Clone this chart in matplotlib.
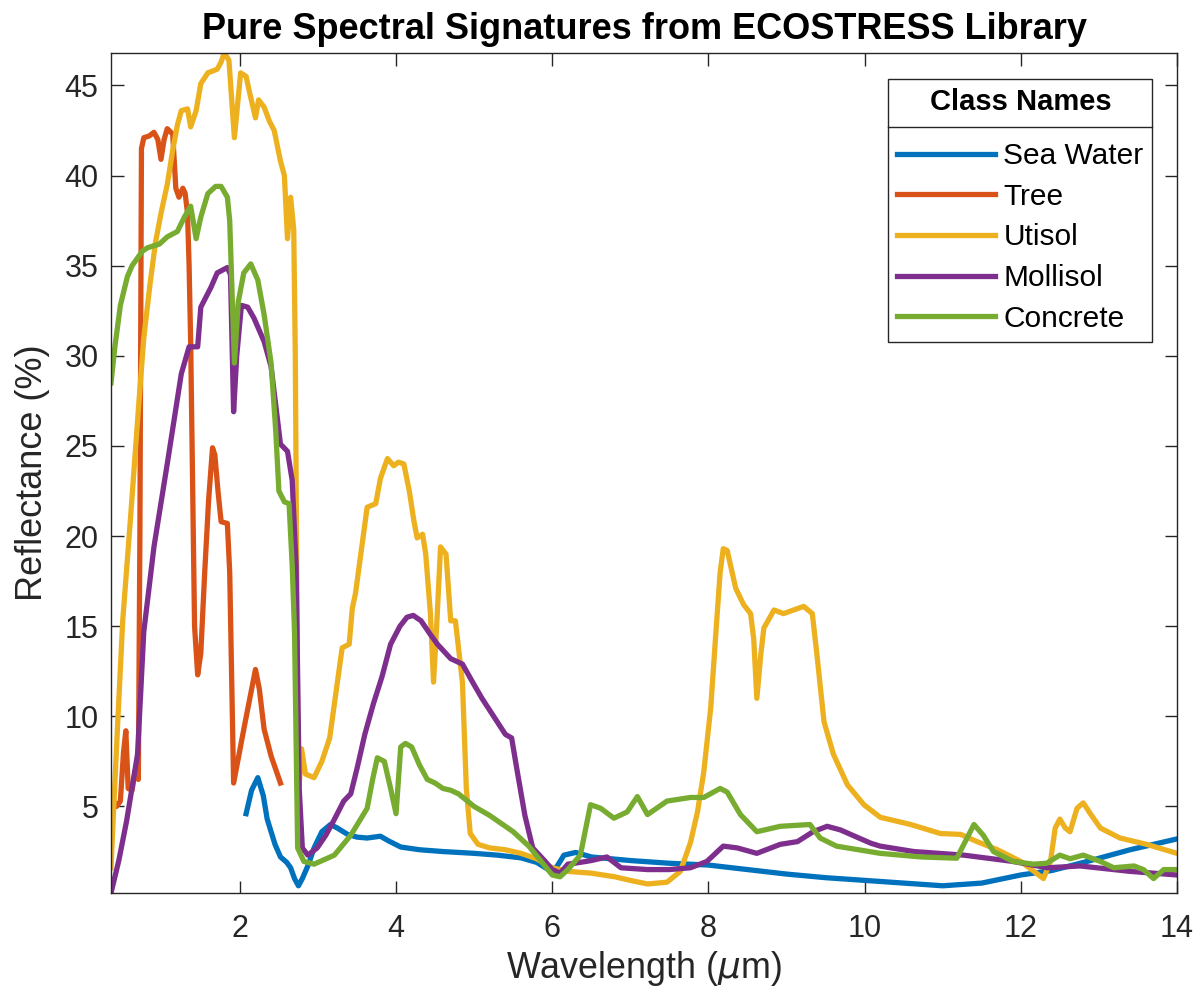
import matplotlib
matplotlib.use("Agg")
import matplotlib.pyplot as plt
from matplotlib.lines import Line2D

plt.rcParams['font.family'] = ['Liberation Sans', 'DejaVu Sans']
plt.rcParams['mathtext.fontset'] = 'dejavusans'

# ---------------- data ----------------
class_names = ["Sea Water", "Tree", "Utisol", "Mollisol", "Concrete"]
colors = ["#0072BD", "#D95319", "#EDB120", "#7E2F8E", "#77AC30"]

wl_sea = [2.08, 2.15, 2.23, 2.3, 2.35, 2.45, 2.52, 2.6, 2.65, 2.7,
          2.75, 2.8, 2.88, 2.95, 3.05, 3.16, 3.25, 3.38, 3.5, 3.63,
          3.8, 3.9, 4.06, 4.3, 4.6, 5.0, 5.3, 5.6, 5.8, 5.95,
          6.05, 6.15, 6.3, 6.5, 7.0, 7.5, 8.0, 8.5, 9.0, 9.5,
          10.0, 10.5, 11.0, 11.5, 12.0, 12.4, 12.85, 13.4, 13.8, 14.0]
sea_water = [4.6, 5.9, 6.6, 5.6, 4.3, 2.9, 2.2, 1.9, 1.6, 1.0,
             0.6, 1.0, 1.8, 2.7, 3.6, 4.0, 3.8, 3.45, 3.3, 3.25,
             3.35, 3.1, 2.75, 2.6, 2.5, 2.4, 2.3, 2.15, 1.9, 1.5,
             1.6, 2.3, 2.45, 2.2, 2.0, 1.85, 1.75, 1.5, 1.25, 1.05,
             0.9, 0.75, 0.6, 0.75, 1.2, 1.45, 1.95, 2.6, 3.0, 3.2]

wl_tree = [0.35, 0.37, 0.42, 0.47, 0.51, 0.54, 0.57, 0.62, 0.66, 0.7,
           0.72, 0.74, 0.77, 0.84, 0.9, 0.95, 0.99, 1.03, 1.07, 1.14,
           1.18, 1.22, 1.27, 1.3, 1.33, 1.35, 1.37, 1.42, 1.46, 1.5,
           1.55, 1.6, 1.65, 1.68, 1.72, 1.76, 1.84, 1.87, 1.92, 2.06,
           2.2, 2.25, 2.31, 2.4, 2.52]
tree = [4.0, 5.4, 5.0, 5.3, 8.0, 9.2, 6.0, 5.9, 7.0, 6.5,
        20, 41.5, 42.1, 42.2, 42.4, 42.0, 40.9, 42.0, 42.6, 42.3,
        39.3, 38.8, 39.3, 39.0, 37.9, 35, 30.8, 15, 12.3, 13.5,
        18, 22, 24.9, 24.5, 22.5, 20.8, 20.7, 18, 6.3, 9.5,
        12.6, 11.5, 9.3, 7.8, 6.3]

wl_uti = [0.35, 0.38, 0.44, 0.5, 0.6, 0.7, 0.77, 0.85, 0.92, 0.99,
          1.07, 1.14, 1.2, 1.25, 1.33, 1.37, 1.44, 1.5, 1.59, 1.71,
          1.76, 1.8, 1.86, 1.93, 2.01, 2.08, 2.12, 2.2, 2.24, 2.31,
          2.38, 2.44, 2.52, 2.57, 2.61, 2.65, 2.69, 2.71, 2.74, 2.76,
          2.79, 2.84, 2.95, 3.05, 3.15, 3.25, 3.31, 3.4, 3.44, 3.48,
          3.57, 3.63, 3.74, 3.8, 3.89, 3.97, 4.03, 4.1, 4.17, 4.23,
          4.27, 4.34, 4.38, 4.44, 4.48, 4.52, 4.57, 4.64, 4.7, 4.76,
          4.8, 4.85, 4.9, 4.95, 5.05, 5.2, 5.4, 5.6, 5.8, 6.0,
          6.2, 6.5, 6.8, 7.0, 7.22, 7.47, 7.64, 7.77, 7.86, 7.94,
          8.03, 8.09, 8.15, 8.19, 8.24, 8.35, 8.45, 8.54, 8.58, 8.62,
          8.67, 8.71, 8.84, 8.96, 9.09, 9.22, 9.33, 9.39, 9.48, 9.6,
          9.78, 9.99, 10.2, 10.59, 10.97, 11.23, 11.44, 11.7, 12.0, 12.2,
          12.29, 12.38, 12.44, 12.5, 12.57, 12.63, 12.72, 12.8, 12.89, 13.02,
          13.27, 13.61, 14.0]
utisol = [1.6, 4.5, 10, 15.3, 21, 27, 31, 34, 36.3, 37.9,
          39.5, 41.4, 42.8, 43.6, 43.7, 42.7, 43.6, 45.1, 45.7, 45.9,
          46.3, 46.8, 46.4, 42.1, 45.7, 45.5, 44.7, 43.2, 44.2, 43.8,
          43.0, 42.5, 40.8, 40.0, 36.5, 38.8, 37.0, 30, 10, 6.2,
          8.2, 6.8, 6.6, 7.5, 8.8, 11.9, 13.8, 14.0, 16.0, 16.8,
          19.7, 21.6, 21.8, 23.2, 24.3, 23.9, 24.1, 24.0, 22.5, 20.8,
          19.9, 20.1, 19.0, 15.7, 11.9, 15.0, 19.4, 19.0, 15.3, 15.3,
          13.8, 11.9, 6.0, 3.5, 2.9, 2.7, 2.6, 2.4, 2.1, 1.6,
          1.4, 1.3, 1.1, 0.9, 0.7, 0.8, 1.4, 3.0, 4.7, 6.9,
          10.5, 14.3, 18.0, 19.3, 19.2, 17.1, 16.2, 15.7, 14.3, 11.0,
          13.4, 14.9, 15.9, 15.7, 15.9, 16.1, 15.7, 13.4, 9.7, 7.9,
          6.2, 5.1, 4.4, 4.0, 3.5, 3.45, 3.05, 2.6, 1.95, 1.3,
          1.0, 1.95, 3.8, 4.3, 3.8, 3.6, 4.9, 5.2, 4.6, 3.8,
          3.25, 2.9, 2.4]

wl_mol = [0.35, 0.45, 0.55, 0.69, 0.77, 0.9, 1.07, 1.25, 1.35, 1.46,
          1.5, 1.63, 1.71, 1.84, 1.88, 1.92, 1.96, 2.02, 2.1, 2.18,
          2.27, 2.31, 2.4, 2.52, 2.61, 2.67, 2.72, 2.76, 2.8, 2.87,
          2.99, 3.1, 3.2, 3.33, 3.42, 3.5, 3.6, 3.71, 3.82, 3.93,
          4.05, 4.14, 4.22, 4.32, 4.43, 4.53, 4.7, 4.85, 4.98, 5.1,
          5.25, 5.4, 5.48, 5.55, 5.65, 5.75, 5.9, 6.0, 6.1, 6.2,
          6.36, 6.5, 6.7, 6.88, 7.22, 7.5, 7.77, 7.98, 8.19, 8.37,
          8.62, 8.92, 9.14, 9.34, 9.52, 9.69, 9.9, 10.08, 10.2, 10.63,
          11.27, 11.9, 12.34, 12.76, 13.4, 14.0]
mollisol = [0.2, 2.0, 4.2, 7.9, 14.7, 19.4, 24.0, 29.0, 30.5, 30.5,
            32.7, 33.8, 34.6, 34.9, 34.5, 26.9, 30, 32.8, 32.7, 32.1,
            31.2, 30.8, 29.4, 25.1, 24.7, 23.1, 18.4, 6, 2.7, 2.3,
            2.7, 3.4, 4.2, 5.3, 5.7, 7.1, 9.0, 10.7, 12.2, 14.0,
            15.0, 15.5, 15.6, 15.3, 14.6, 14.0, 13.2, 12.9, 11.9, 11.0,
            10.0, 9.0, 8.8, 7.0, 4.5, 2.7, 2.0, 1.5, 1.3, 1.8,
            1.9, 2.0, 2.2, 1.6, 1.5, 1.5, 1.6, 1.95, 2.8, 2.7,
            2.4, 2.9, 3.05, 3.6, 3.9, 3.7, 3.3, 2.96, 2.8, 2.5,
            2.3, 1.95, 1.6, 1.7, 1.4, 1.2]

wl_con = [0.35, 0.4, 0.47, 0.56, 0.62, 0.75, 0.82, 0.97, 1.07, 1.2,
          1.29, 1.37, 1.44, 1.5, 1.59, 1.69, 1.76, 1.84, 1.87, 1.93,
          1.98, 2.05, 2.14, 2.23, 2.31, 2.4, 2.46, 2.5, 2.57, 2.63,
          2.67, 2.7, 2.74, 2.82, 2.95, 3.21, 3.42, 3.63, 3.7, 3.76,
          3.85, 3.93, 4.0, 4.06, 4.12, 4.2, 4.3, 4.4, 4.5, 4.6,
          4.7, 4.8, 5.0, 5.2, 5.5, 5.7, 5.85, 6.0, 6.1, 6.2,
          6.36, 6.49, 6.62, 6.79, 6.96, 7.09, 7.22, 7.47, 7.77, 7.94,
          8.15, 8.24, 8.41, 8.62, 8.92, 9.3, 9.43, 9.64, 10.2, 10.72,
          11.18, 11.4, 11.52, 11.65, 11.9, 12.16, 12.33, 12.5, 12.63, 12.8,
          13.02, 13.19, 13.45, 13.57, 13.7, 13.83, 14.0]
concrete = [28.5, 30.5, 32.8, 34.4, 35.0, 35.8, 36.0, 36.2, 36.6, 36.9,
            37.7, 38.3, 36.5, 37.7, 39.0, 39.4, 39.4, 38.8, 37.5, 29.6,
            33, 34.6, 35.1, 34.2, 32.3, 29.6, 25.8, 22.5, 21.9, 21.8,
            18.4, 14.7, 2.7, 1.95, 1.8, 2.3, 3.4, 4.9, 6.5, 7.7,
            7.5, 6.0, 4.6, 8.3, 8.5, 8.3, 7.3, 6.5, 6.3, 6.0,
            5.9, 5.7, 5.0, 4.5, 3.6, 2.8, 2.0, 1.2, 1.1, 1.5,
            2.3, 5.1, 4.9, 4.35, 4.7, 5.55, 4.55, 5.3, 5.5, 5.5,
            6.0, 5.8, 4.55, 3.6, 3.9, 4.0, 3.25, 2.8, 2.4, 2.2,
            2.13, 4.0, 3.4, 2.5, 1.95, 1.8, 1.85, 2.3, 2.1, 2.3,
            1.95, 1.6, 1.7, 1.5, 1.0, 1.5, 1.5]

series_x = [wl_sea, wl_tree, wl_uti, wl_mol, wl_con]
series_y = [sea_water, tree, utisol, mollisol, concrete]

x_ticks = [2, 4, 6, 8, 10, 12, 14]
y_ticks = [5, 10, 15, 20, 25, 30, 35, 40, 45]

# ---------------- figure ----------------
W, H = 1200, 996
fig = plt.figure(figsize=(W / 100, H / 100), dpi=100)
ax = fig.add_axes([111 / W, 1 - 893 / H, (1177 - 111) / W, (893 - 53) / H])

for xs, ys, name, c in zip(series_x, series_y, class_names, colors):
    ax.plot(xs, ys, color=c, lw=3.8, label=name, solid_joinstyle='round')

all_y = [v for ys in series_y for v in ys]
ax.set_xlim(0.35, 14)
ax.set_ylim(min(all_y), max(all_y))
ax.set_xticks(x_ticks)
ax.set_yticks(y_ticks)

axc = '#262626'
for s in ax.spines.values():
    s.set_color(axc)
    s.set_linewidth(1.0)
ax.tick_params(direction='in', length=9, width=1.0, colors=axc,
               labelsize=22, top=True, right=True)
ax.tick_params(axis='x', pad=15)
ax.tick_params(axis='y', pad=9)

ax.set_xlabel('Wavelength ($\\mu$m)', fontsize=25.8, color=axc, labelpad=4)
ax.set_ylabel('Reflectance (%)', fontsize=26, color=axc, labelpad=10)
ax.set_title('Pure Spectral Signatures from ECOSTRESS Library',
             fontsize=26, fontweight='bold', pad=10, color='black')

leg = ax.legend(loc='upper right', bbox_to_anchor=(0.977, 0.969),
                borderaxespad=0, fontsize=21.5, title='Class Names',
                title_fontproperties={'weight': 'bold', 'size': 21},
                fancybox=False, framealpha=1, edgecolor=axc,
                handlelength=3.28, handletextpad=0.27, labelspacing=0.42,
                borderpad=0.3)
leg.get_frame().set_linewidth(1.0)
leg._legend_box.sep = 19

fig.canvas.draw()
r = fig.canvas.get_renderer()
lb = leg.get_window_extent(r)
tb = leg.get_title().get_window_extent(r)
ysep = tb.y0 - 11
inv = fig.transFigure.inverted()
(x0, y0) = inv.transform((lb.x0, ysep))
(x1, _) = inv.transform((lb.x1, ysep))
fig.add_artist(Line2D([x0, x1], [y0, y0], transform=fig.transFigure,
                      color=axc, lw=1.0))

fig.savefig('out.png', dpi=100)
